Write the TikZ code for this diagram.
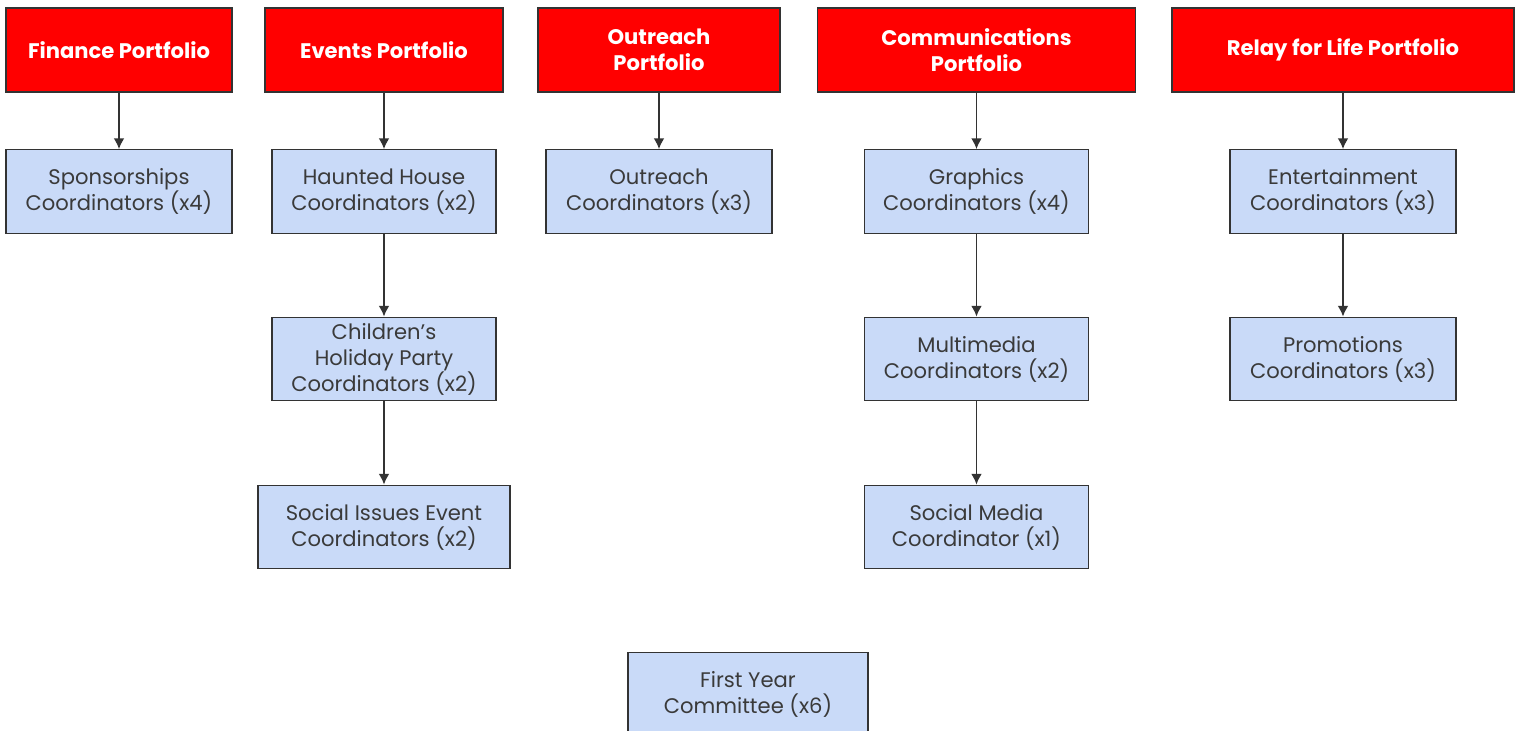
\documentclass[tikz,border=0pt]{standalone}
\usepackage{fontspec}
\setmainfont{Poppins}
\usetikzlibrary{arrows.meta,positioning}
\definecolor{portred}{HTML}{FF0000}
\definecolor{roleblue}{HTML}{C9DAF8}
\definecolor{edgegray}{HTML}{333333}
\definecolor{textgray}{HTML}{3A3A3A}
\tikzset{
  portfolio/.style={draw=edgegray,fill=portred,text=white,font=\fontsize{6}{7.4}\selectfont\bfseries,
    align=center,minimum height=0.84cm,inner sep=0pt,line width=0.4pt},
  role/.style={draw=edgegray,fill=roleblue,text=textgray,font=\fontsize{6}{7.4}\selectfont,
    align=center,minimum height=0.835cm,minimum width=2.24cm,inner sep=0pt,line width=0.4pt},
  link/.style={-{Latex[length=3pt,width=3pt]},draw=edgegray,line width=0.4pt}
}
\begin{document}
\begin{tikzpicture}[x=0.01cm,y=-0.01cm]
\useasboundingbox[fill=white] (0,0) rectangle (1520,731);
% portfolios
\node[portfolio,minimum width=2.26cm] (fin) at (119,50) {Finance Portfolio};
\node[portfolio,minimum width=2.38cm] (evt) at (384,50) {Events Portfolio};
\node[portfolio,minimum width=2.42cm] (out) at (659,50) {Outreach\\Portfolio};
\node[portfolio,minimum width=3.18cm] (com) at (976.5,50) {Communications\\Portfolio};
\node[portfolio,minimum width=3.42cm] (rel) at (1343,50) {Relay for Life Portfolio};
% coordinators
\node[role,minimum width=2.26cm] (spon) at (119,191.5) {Sponsorships\\Coordinators (x4)};
\node[role] (haunt) at (384,191.5) {Haunted House\\Coordinators (x2)};
\node[role,minimum width=2.26cm] (outc) at (659,191.5) {Outreach\\Coordinators (x3)};
\node[role] (graph) at (976.5,191.5) {Graphics\\Coordinators (x4)};
\node[role,minimum width=2.26cm] (ent) at (1343,191.5) {Entertainment\\Coordinators (x3)};
\node[role] (child) at (384,359) {Children’s\\Holiday Party\\Coordinators (x2)};
\node[role] (multi) at (976.5,359) {Multimedia\\Coordinators (x2)};
\node[role,minimum width=2.26cm] (promo) at (1343,359) {Promotions\\Coordinators (x3)};
\node[role,minimum width=2.52cm] (social) at (384,527) {Social Issues Event\\Coordinators (x2)};
\node[role] (smedia) at (976.5,527) {Social Media\\Coordinator (x1)};
\node[role,minimum width=2.4cm] (first) at (748,694) {First Year\\Committee (x6)};
% links
\draw[link] (fin) -- (spon);
\draw[link] (evt) -- (haunt);
\draw[link] (haunt) -- (child);
\draw[link] (child) -- (social);
\draw[link] (out) -- (outc);
\draw[link] (com) -- (graph);
\draw[link] (graph) -- (multi);
\draw[link] (multi) -- (smedia);
\draw[link] (rel) -- (ent);
\draw[link] (ent) -- (promo);
\end{tikzpicture}
\end{document}
